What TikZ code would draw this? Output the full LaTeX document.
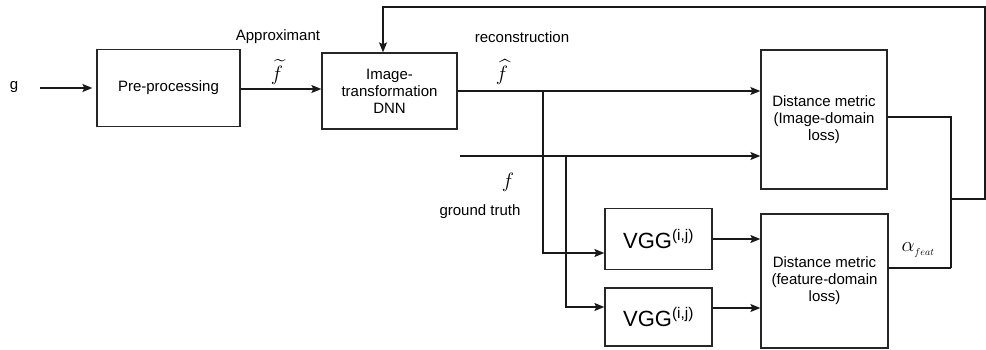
\documentclass[tikz,border=0pt]{standalone}
\usepackage{fontspec}
\setmainfont{Liberation Sans}
\usepackage{amsmath}
\usetikzlibrary{arrows.meta}
\begin{document}
\begin{tikzpicture}[x=1pt,y=-1pt,
  box/.style={draw=black!85, line width=1.3pt, inner sep=2pt, align=center, font=\fontsize{15}{17}\selectfont},
  lbl/.style={font=\fontsize{15}{17}\selectfont, inner sep=0pt},
  mlbl/.style={font=\fontsize{20}{24}\selectfont, inner sep=0pt},
  vggt/.style={font=\fontsize{22}{26}\selectfont},
  wire/.style={draw=black!90, line width=1.3pt},
  arr/.style={wire, -{Stealth[length=10pt,width=8pt,inset=2pt]}}]
\useasboundingbox (0,0) rectangle (986,350);
% boxes
\node[box, minimum width=143pt, minimum height=77pt] (pre) at (168.5,88) {Pre-processing};
\node[box, minimum width=135pt, minimum height=76pt] (dnn) at (389.5,91) {Image-\\transformation\\DNN};
\node[box, minimum width=126pt, minimum height=139pt] (dm1) at (824,119.5) {Distance metric\\(Image-domain\\loss)};
\node[box, minimum width=127pt, minimum height=134pt] (dm2) at (824.5,281) {Distance metric\\(feature-domain\\loss)};
\node[box, vggt, minimum width=107pt, minimum height=61pt] (vgg1) at (658.5,239) {VGG\textsuperscript{(i,j)}};
\node[box, vggt, minimum width=107pt, minimum height=58pt] (vgg2) at (658.5,317) {VGG\textsuperscript{(i,j)}};
% labels
\node[lbl] (g) at (14,87) {g};
\node[lbl] (appr) at (278,37) {Approximant};
\node[mlbl] (ftil) at (277,72) {$\widetilde{f}$};
\node[lbl] (rec) at (522,37) {reconstruction};
\node[mlbl] (fhat) at (502,72) {$\widehat{f}$};
\node[mlbl] (fgt) at (508,182) {$f$};
\node[lbl] (gt) at (480,212) {ground truth};
\node[mlbl] (alpha) at (918,250) {$\alpha_{\scriptscriptstyle feat}$};
% coordinates
\coordinate (gstart) at (40,88);
\coordinate (fstart) at (460,156);
\coordinate (b1) at (543,91);
\coordinate (b2) at (566,156);
\coordinate (jtop) at (951,117);
\coordinate (jmid) at (951,199);
\coordinate (jbot) at (951,268);
\coordinate (c1) at (985,199);
\coordinate (c2) at (985,7);
\coordinate (c3) at (383,7);
% connectors
\draw[arr] (gstart) -- ([xshift=-4pt]pre.west);
\draw[arr] ([yshift=-1pt]pre.east) -- ([yshift=-1pt]pre.east -| dnn.west);
\draw[arr] (dnn.east) -- (dnn.east -| dm1.west);
\draw[arr] (fstart) -- (fstart -| dm1.west);
\draw[arr] (b1) |- ([yshift=-14pt]vgg1.west);
\draw[arr] (b2) |- ([yshift=10pt]vgg2.west);
\draw[arr] (vgg1.east) -- (vgg1.east -| dm2.west);
\draw[arr] ([yshift=9pt]vgg2.east) -- ([yshift=9pt]vgg2.east -| dm2.west);
\draw[wire] ([yshift=2.5pt]dm1.east) -- (jtop) -- (jbot);
\draw[wire] ([yshift=13pt]dm2.east) -- (jbot);
\draw[arr] (jmid) -- (c1) -- (c2) -- (c3) -- (c3 |- dnn.north);
\end{tikzpicture}
\end{document}
